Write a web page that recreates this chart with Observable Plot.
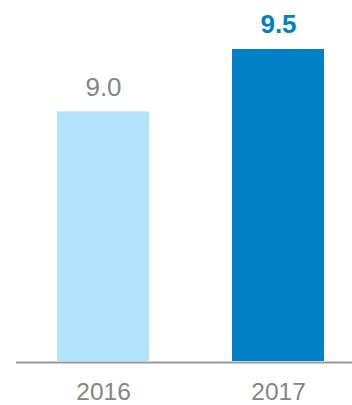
<!DOCTYPE html>
<html>
<head>
<meta charset="utf-8">
<script src="https://cdn.jsdelivr.net/npm/d3@7"></script>
<script src="https://cdn.jsdelivr.net/npm/@observablehq/plot@0.6"></script>
<style>
  html, body { margin: 0; padding: 0; background: #fff; }
  svg { display: block; }
</style>
</head>
<body>
<div id="chart"></div>
<script>
const years = ["2016", "2017"];
const values = [9.0, 9.5];
const barColors = ["#b3e3fd", "#0080c6"];
const labelColors = ["#858585", "#0080c6"];
const labelWeights = ["normal", "bold"];
const baseValue = 7;

const data = years.map((y, i) => ({
  year: y, value: values[i], color: barColors[i],
  labelColor: labelColors[i], weight: labelWeights[i], label: values[i].toFixed(1)
}));

const chart = Plot.plot({
  width: 352,
  height: 405,
  marginTop: 49,
  marginBottom: 44,
  marginLeft: 16,
  marginRight: 0,
  style: { fontFamily: "'Liberation Sans', Arial, sans-serif", background: "#fff" },
  x: { domain: years, paddingInner: 0.473, paddingOuter: 0.194, align: 0.603, axis: null },
  y: { domain: [baseValue, 9.5], axis: null },
  marks: [
    Plot.barY(data, { x: "year", y1: baseValue, y2: "value", fill: "color" }),
    Plot.ruleY([baseValue], { stroke: "#999", strokeWidth: 2, dy: 1 }),
    Plot.text(data.filter(d => d.weight === "normal"), {
      x: "year", y: "value", text: "label", fill: "labelColor",
      fontSize: 26, lineAnchor: "bottom", dy: -16
    }),
    Plot.text(data.filter(d => d.weight === "bold"), {
      x: "year", y: "value", text: "label", fill: "labelColor",
      fontSize: 26, fontWeight: "bold", lineAnchor: "bottom", dy: -17
    }),
    Plot.axisX({ tickSize: 0, tickPadding: 21, fontSize: 24.5, color: "#858585", lineAnchor: "top", label: null })
  ]
});
document.getElementById("chart").appendChild(chart);
</script>
</body>
</html>
